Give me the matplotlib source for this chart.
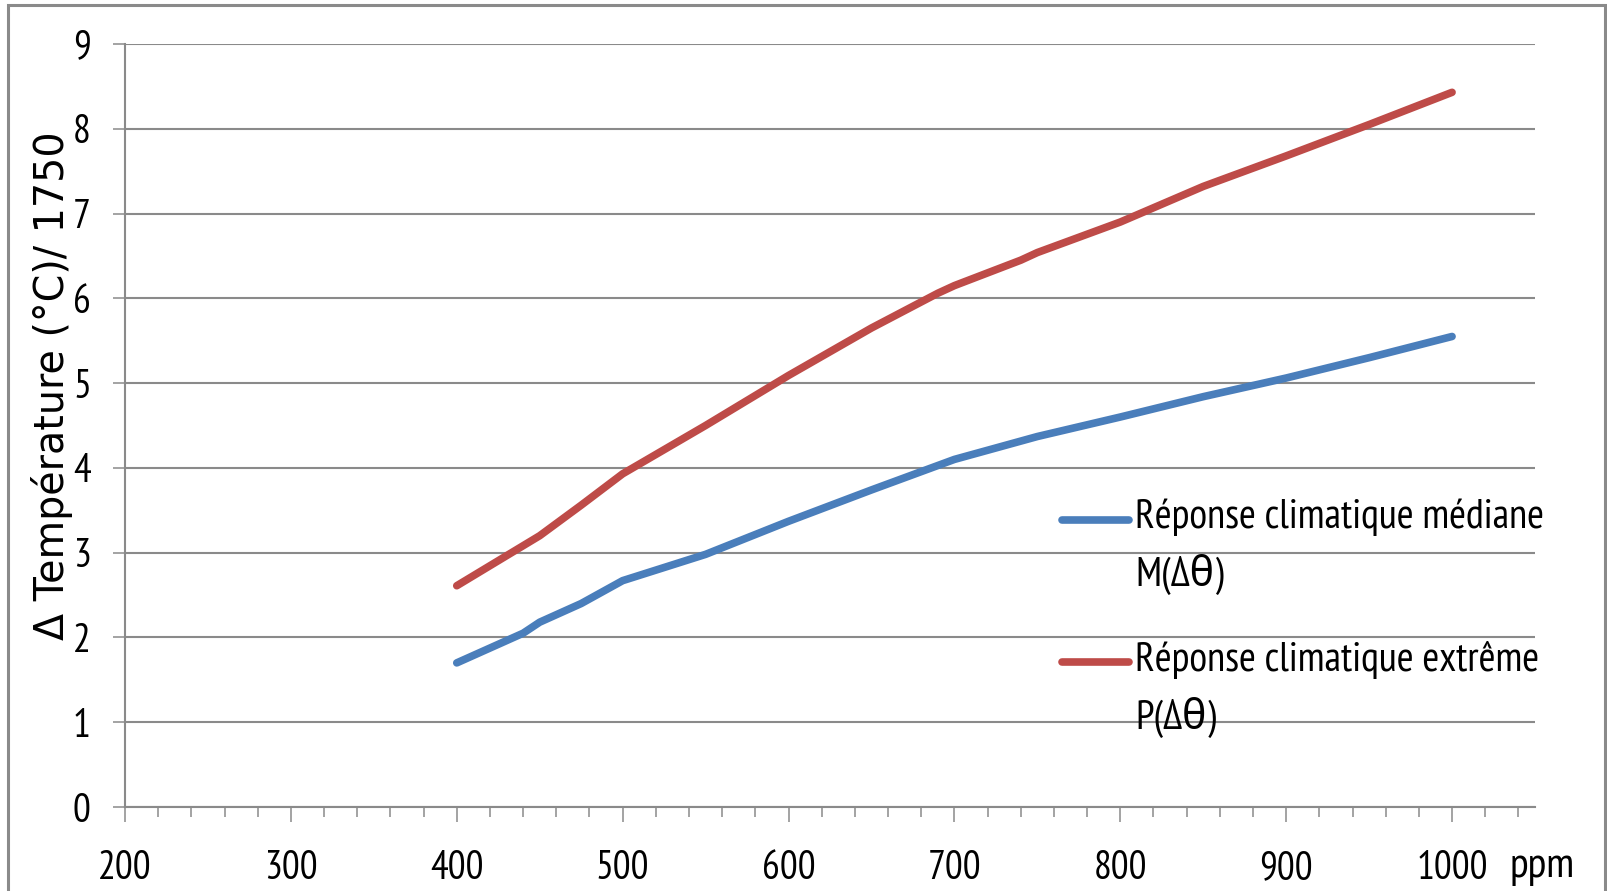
import numpy as np
import matplotlib.pyplot as plt
from matplotlib import font_manager
from matplotlib.legend_handler import HandlerLine2D
from matplotlib.patches import Rectangle

# data
ppm_median = [400, 440, 450, 475, 500, 550, 600, 650, 700, 750, 800, 850, 900, 950, 1000]
median = [1.70, 2.05, 2.18, 2.40, 2.67, 2.98, 3.37, 3.74, 4.10, 4.37, 4.60, 4.84, 5.06, 5.30, 5.55]
ppm_extreme = [400, 450, 475, 500, 550, 600, 650, 690, 700, 740, 750, 800, 850, 900, 950, 1000]
extreme = [2.61, 3.20, 3.56, 3.93, 4.50, 5.09, 5.65, 6.06, 6.15, 6.45, 6.54, 6.90, 7.32, 7.68, 8.05, 8.43]
labels = ['Réponse climatique médiane\nM(Δθ)', 'Réponse climatique extrême\nP(Δθ)']
y_label = 'Δ Température (°C)/ 1750'

# the original looks like Calibri squeezed sideways: narrow font for flat text
available = {f.name for f in font_manager.fontManager.ttflist}
narrow = next(n for n in ['PT Sans Narrow', 'Archivo Narrow', 'Carlito', 'Liberation Sans'] if n in available)
narrow_fam = [narrow, 'Noto Sans', 'DejaVu Sans']  # fallback for the Greek theta

GRAY = '#8a8a8a'
BLUE = '#4a7ebb'
RED = '#be4b48'


class TopLineHandler(HandlerLine2D):
    # put the legend line next to the first text line, like Excel does
    def create_artists(self, legend, orig_handle, xdescent, ydescent, width, height, fontsize, trans):
        arts = super().create_artists(legend, orig_handle, xdescent, ydescent, width, height, fontsize, trans)
        for a in arts:
            a.set_ydata(np.asarray(a.get_ydata()) + 19.5)
        return arts


fig = plt.figure(figsize=(16.08, 8.91), dpi=100)
ax = fig.add_axes([125 / 1608, 84 / 891, 1410 / 1608, 763 / 891])

ax.plot(ppm_median, median, color=BLUE, lw=5.5, solid_capstyle='round', solid_joinstyle='round', label=labels[0])
ax.plot(ppm_extreme, extreme, color=RED, lw=5.5, solid_capstyle='round', solid_joinstyle='round', label=labels[1])

ax.set_xlim(200, 1050)
ax.set_ylim(0, 9)
ax.set_xticks(range(200, 1001, 100))
ax.set_xticks(range(220, 1041, 20), minor=True)
ax.set_yticks(range(0, 10))
ax.grid(axis='y', color=GRAY, lw=1.5)
ax.set_axisbelow(True)
for s in ['top', 'right']:
    ax.spines[s].set_visible(False)
for s in ['left', 'bottom']:
    ax.spines[s].set_color(GRAY)
    ax.spines[s].set_linewidth(1.5)

ax.tick_params(axis='x', which='major', direction='out', length=11, width=1.1, color=GRAY, pad=20)
ax.tick_params(axis='x', which='minor', direction='out', length=7.2, width=1.1, color=GRAY)
ax.tick_params(axis='y', direction='out', length=8.6, width=1.1, color=GRAY, pad=16)
for t in ax.get_xticklabels() + ax.get_yticklabels():
    t.set_fontfamily(narrow_fam)
    t.set_fontsize(28.5)

ax.set_ylabel(y_label, fontsize=28.5, family='DejaVu Sans')
ax.yaxis.set_label_coords(-0.037, 0.552)
ax.annotate('ppm', xy=(1, 0), xycoords='axes fraction', xytext=(-25, -60),
            textcoords='offset pixels', ha='left', va='center', fontsize=31, family=narrow_fam)

leg = ax.legend(handler_map={plt.Line2D: TopLineHandler()}, loc='upper left',
                bbox_to_anchor=(917 / 1410, (807 - 478) / 763), frameon=False,
                borderpad=0, handlelength=1.62, handletextpad=0.16, labelspacing=1.12,
                prop={'family': narrow_fam, 'size': 29.5})
for t in leg.get_texts():
    t.set_linespacing(1.56)

fig.add_artist(Rectangle((8 / 1608, -0.05), 1597 / 1608, 1.05 - 5 / 891, transform=fig.transFigure,
                         fill=False, edgecolor=GRAY, lw=2.2))

fig.savefig('out.png', dpi=100)
